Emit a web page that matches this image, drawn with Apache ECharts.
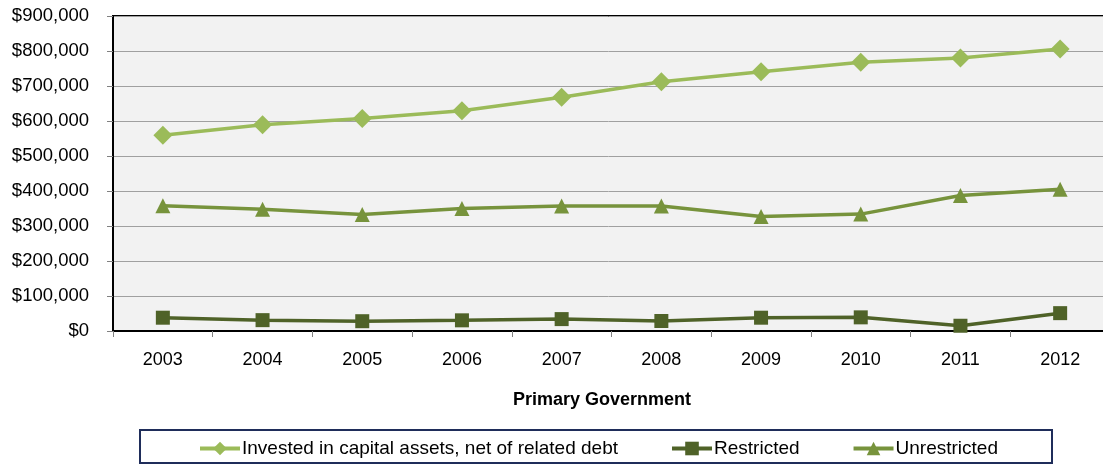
<!DOCTYPE html>
<html>
<head>
<meta charset="utf-8">
<script src="https://cdn.jsdelivr.net/npm/echarts@6/dist/echarts.min.js"></script>
<style>
  html, body { margin: 0; padding: 0; background: #fff; }
  #chart { width: 1103px; height: 464px; }
</style>
</head>
<body>
<div id="chart"></div>
<script>
// Net position of the primary government, fiscal years 2003–2012 (in thousands)
const years = ['2003', '2004', '2005', '2006', '2007', '2008', '2009', '2010', '2011', '2012'];
const invested = [559000, 589000, 607000, 629000, 668000, 712000, 741000, 768000, 780000, 806000];
const restricted = [38000, 31000, 28000, 30500, 34000, 28500, 38000, 39000, 15000, 51000];
const unrestricted = [358000, 348000, 333000, 350000, 357000, 357000, 327000, 334000, 387000, 405000];
const seriesNames = ['Invested in capital assets, net of related debt', 'Restricted', 'Unrestricted'];

const FONT = '"Liberation Sans", Arial, sans-serif';
const chart = echarts.init(document.getElementById('chart'));

function money(v) {
  return '$' + v.toLocaleString('en-US');
}

chart.setOption({
  animation: false,
  textStyle: { fontFamily: FONT },
  grid: {
    left: 113, top: 16, width: 997, height: 315,
    outerBoundsMode: 'none',
    show: true, backgroundColor: '#F2F2F2', borderColor: '#000', borderWidth: 2,
    containLabel: false
  },
  legend: {
    left: 193, top: 434, itemGap: 52, itemWidth: 40, itemHeight: 17,
    data: seriesNames,
    lineStyle: { width: 4 },
    textStyle: { fontFamily: FONT, fontSize: 19, color: '#000', padding: [0, 0, 0, -3] }
  },
  graphic: [
    {
      type: 'rect', x: 140, y: 430,
      shape: { width: 912, height: 33 },
      style: { fill: 'none', stroke: '#1F2D5A', lineWidth: 2 }
    },
    {
      type: 'text', x: 602, y: 400,
      style: {
        text: 'Primary Government', fontFamily: FONT, fontSize: 18, fontWeight: 'bold',
        fill: '#000', textAlign: 'center', textVerticalAlign: 'middle'
      }
    }
  ],
  xAxis: {
    type: 'category', data: years, boundaryGap: true,
    axisLine: { lineStyle: { color: '#000', width: 2 } },
    axisTick: { show: true, alignWithLabel: false, length: 6, lineStyle: { color: '#808080' } },
    axisLabel: { fontFamily: FONT, fontSize: 18, color: '#000', margin: 20 }
  },
  yAxis: {
    type: 'value', min: 0, max: 900000, interval: 100000,
    axisLine: { show: true, lineStyle: { color: '#000', width: 2 } },
    axisTick: { show: true, length: 6, lineStyle: { color: '#808080' } },
    axisLabel: { fontFamily: FONT, fontSize: 18.5, color: '#000', margin: 24, formatter: money },
    splitLine: { lineStyle: { color: '#A0A0A0', width: 1 } }
  },
  series: [
    {
      name: seriesNames[0], type: 'line', data: invested,
      symbol: 'diamond', symbolSize: 19,
      itemStyle: { color: '#9BBB59' },
      lineStyle: { color: '#9BBB59', width: 3.5 }
    },
    {
      name: seriesNames[1], type: 'line', data: restricted,
      symbol: 'rect', symbolSize: 14,
      itemStyle: { color: '#4F6228' },
      lineStyle: { color: '#4F6228', width: 3.5 }
    },
    {
      name: seriesNames[2], type: 'line', data: unrestricted,
      symbol: 'triangle', symbolSize: 15,
      itemStyle: { color: '#77933C' },
      lineStyle: { color: '#77933C', width: 3.5 }
    }
  ]
});
</script>
</body>
</html>
